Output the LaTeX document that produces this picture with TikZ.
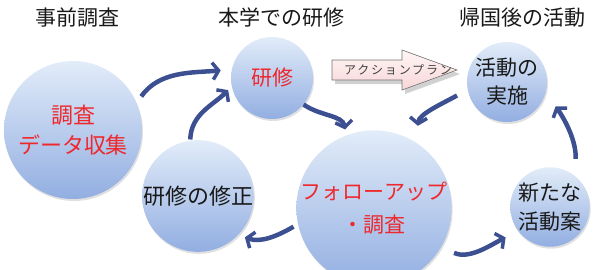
\documentclass[tikz,border=0pt]{standalone}
\usepackage{fontspec}
\setmainfont{Noto Sans CJK JP}
\usetikzlibrary{arrows.meta,shadows}
\definecolor{arrowblue}{RGB}{60,80,145}
\definecolor{ctop}{RGB}{226,236,249}
\definecolor{cbot}{RGB}{146,174,225}
\definecolor{redtxt}{RGB}{238,40,44}
\definecolor{pinktop}{RGB}{255,246,246}
\definecolor{pinkbot}{RGB}{248,214,214}
\tikzset{
  bubble/.style={circle, inner sep=0pt, top color=ctop, bottom color=cbot, draw=none,
    drop shadow={shadow xshift=1pt,shadow yshift=-2pt,fill=black,opacity=0.12},
    align=center},
  head/.style={font=\fontsize{21}{25}\selectfont, text=black!90},
  arr/.style={draw=arrowblue, line width=4.5pt,
    -{Straight Barb[length=6pt,width=17pt,line width=3.5pt]}},
}
\begin{document}
\begin{tikzpicture}[x=1pt,y=1pt]
\useasboundingbox (0,0) rectangle (600,269);
% headings
\node[head] (h1) at (77,251) {事前調査};
\node[head] (h2) at (281,251) {本学での研修};
\node[head] (h3) at (522,251) {帰国後の活動};
% action plan block arrow
\fill[black!30,opacity=0.6] (335,205) -- (405,205) -- (405,215) -- (460,195) -- (405,175) -- (405,185) -- (335,185) -- cycle;
\draw[black!55, line width=0.6pt, top color=pinktop, bottom color=pinkbot]
  (332,209) -- (402,209) -- (402,219) -- (457,199) -- (402,179) -- (402,189) -- (332,189) -- cycle;
\node[font=\fontsize{12}{14}\selectfont\addfontfeatures{LetterSpace=15}, text=black!75] (ap) at (398,199) {アクションプラン};
% circles
\node[bubble, minimum size=138pt, font=\fontsize{22}{30}\selectfont, text=redtxt] (chosa) at (73,139) {調査\\データ収集};
\node[bubble, minimum size=82pt, font=\fontsize{21}{25}\selectfont, text=redtxt] (ken) at (272,191) {研修};
\node[bubble, minimum size=80pt, font=\fontsize{21}{28}\selectfont, text=black!90] (jisshi) at (507,187) {活動の\\実施};
\node[bubble, minimum size=84pt, font=\fontsize{22}{26}\selectfont, text=black!90] (shusei) at (198,73) {研修の修正};
\node[bubble, minimum size=116pt, font=\fontsize{21}{33}\selectfont, text=redtxt] (follow) at (374,61) {フォローアップ\\・調査};
\node[bubble, minimum size=76pt, font=\fontsize{21}{29}\selectfont, text=black!90] (shin) at (550,62) {新たな\\活動案};
% cycle arrows
\draw[arr, shorten <=8pt, shorten >=11pt] (chosa.23) to[out=55,in=185] (ken.168);
\draw[arr, shorten <=1pt, shorten >=5pt] (shusei.98) to[out=88,in=225] (ken.192);
\draw[arr, shorten >=6pt] (ken.-40) to[out=-35,in=100] (follow.111);
\draw[arr, shorten <=12pt, shorten >=17pt] (jisshi.191) to[out=209,in=85] (follow.57);
\draw[arr, shorten <=5pt, shorten >=7pt] (follow.192) to[out=210,in=-20] (shusei.-44);
\draw[arr, shorten <=14pt, shorten >=14pt] (follow.-30) to[out=-25,in=207] (shin.217);
\draw[arr, shorten <=17pt, shorten >=17pt] (shin.51) to[out=88,in=-55] (jisshi.-15);
\end{tikzpicture}
\end{document}
